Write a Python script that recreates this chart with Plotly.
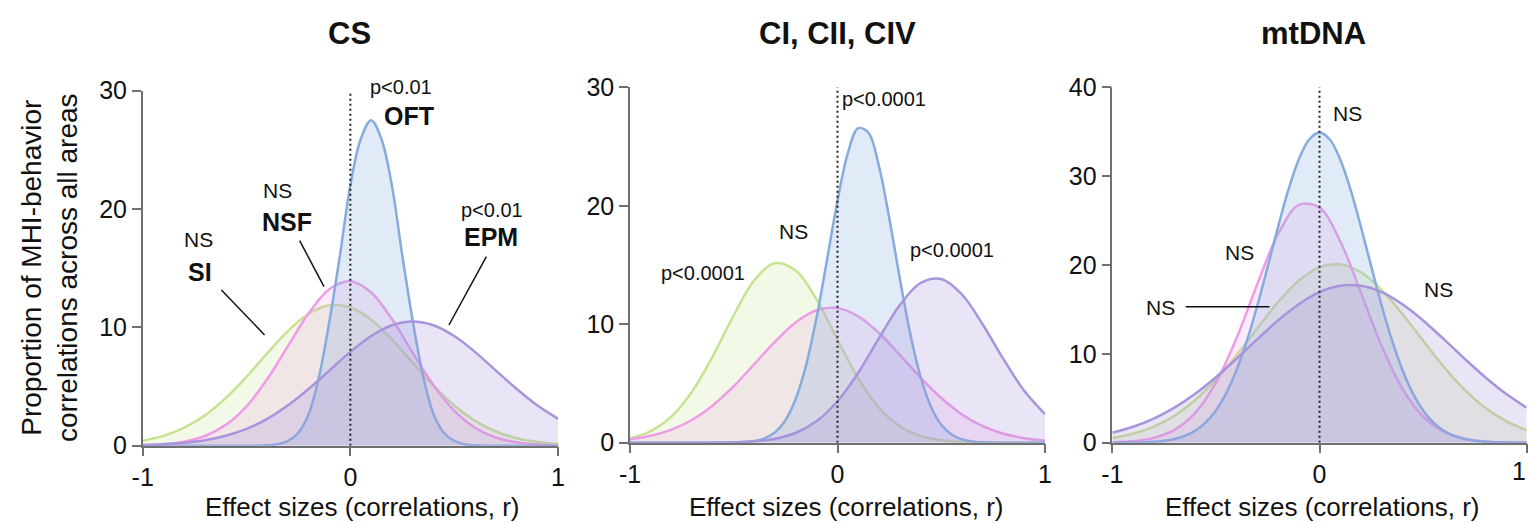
import plotly.graph_objects as go

# ---------------- data ----------------
R_VALUES = [-1.0, -0.9, -0.8, -0.7, -0.6, -0.5, -0.4, -0.3, -0.2, -0.1, 0.0,
            0.1, 0.2, 0.3, 0.4, 0.5, 0.6, 0.7, 0.8, 0.9, 1.0]
# finer grid for the narrow (blue) curves
R_FINE = [-1.0, -0.95, -0.9, -0.85, -0.8, -0.75, -0.7, -0.65, -0.6, -0.55, -0.5,
          -0.45, -0.4, -0.35, -0.3, -0.25, -0.2, -0.15, -0.1, -0.05, 0.0,
          0.05, 0.1, 0.15, 0.2, 0.25, 0.3, 0.35, 0.4, 0.45, 0.5,
          0.55, 0.6, 0.65, 0.7, 0.75, 0.8, 0.85, 0.9, 0.95, 1.0]

PANEL_TITLES = ["CS", "CI, CII, CIV", "mtDNA"]

# CS panel
CS_SI = [0.42, 0.83, 1.52, 2.57, 4.02, 5.83, 7.82, 9.70, 11.15, 11.86, 11.68,
         10.65, 8.98, 7.02, 5.07, 3.40, 2.11, 1.20, 0.64, 0.32, 0.14]
CS_NSF = [0.04, 0.13, 0.34, 0.82, 1.76, 3.33, 5.63, 8.43, 11.21, 13.24, 13.89,
          12.94, 10.70, 7.85, 5.12, 2.96, 1.52, 0.69, 0.28, 0.10, 0.03]
CS_OFT = [0, 0, 0, 0, 0, 0, 0, 0, 0, 0, 0,
          0, 0.03, 0.12, 0.4, 1.1, 2.7, 5.9, 10.6, 16.1, 22.0,
          25.9, 27.5, 25.9, 22.0, 16.1, 10.6, 5.9, 2.7, 1.1, 0.4,
          0.12, 0.03, 0, 0, 0, 0, 0, 0, 0, 0]
CS_EPM = [0.05, 0.12, 0.24, 0.46, 0.84, 1.42, 2.27, 3.41, 4.81, 6.37, 7.93,
          9.27, 10.18, 10.5, 10.18, 9.27, 7.93, 6.37, 4.81, 3.41, 2.27]

# CI, CII, CIV panel
C_GREEN = [0.38, 0.98, 2.22, 4.33, 7.33, 10.76, 13.73, 15.16, 14.52, 12.07, 8.69,
           5.44, 2.95, 1.39, 0.57, 0.20, 0.06, 0.02, 0, 0, 0]
C_PINK = [0.28, 0.58, 1.10, 1.94, 3.17, 4.77, 6.65, 8.55, 10.17, 11.18, 11.36,
          10.67, 9.26, 7.42, 5.49, 3.77, 2.38, 1.39, 0.75, 0.38, 0.17]
C_BLUE = [0, 0, 0, 0, 0, 0, 0, 0, 0, 0, 0.02,
          0.05, 0.14, 0.38, 0.89, 1.92, 3.75, 6.63, 10.65, 15.48, 20.43,
          24.45, 26.55, 26.14, 23.34, 18.91, 13.9, 9.25, 5.59, 3.06, 1.52,
          0.69, 0.28, 0.10, 0.03, 0, 0, 0, 0, 0, 0]
C_PURPLE = [0, 0, 0, 0, 0.01, 0.04, 0.12, 0.34, 0.84, 1.83, 3.50,
            5.91, 8.82, 11.6, 13.48, 13.82, 12.51, 9.98, 7.05, 4.38, 2.41]

# mtDNA panel
M_GREEN = [0.53, 1.02, 1.82, 3.04, 4.79, 7.10, 9.87, 12.88, 15.82, 18.23, 19.73,
           20.07, 19.18, 17.21, 14.49, 11.48, 8.54, 5.97, 3.92, 2.42, 1.40]
M_PINK = [0.05, 0.17, 0.54, 1.44, 3.35, 6.75, 11.78, 17.86, 23.47, 26.76, 26.46,
          22.68, 16.86, 10.87, 6.09, 2.95, 1.24, 0.45, 0.14, 0.04, 0.01]
M_BLUE = [0.0, 0.01, 0.02, 0.05, 0.11, 0.21, 0.41, 0.76, 1.34, 2.26, 3.63,
          5.58, 8.21, 11.51, 15.44, 19.82, 24.29, 28.47, 31.88, 34.12, 34.9,
          34.12, 31.88, 28.47, 24.29, 19.82, 15.44, 11.51, 8.21, 5.58, 3.63,
          2.26, 1.34, 0.76, 0.41, 0.21, 0.11, 0.05, 0.02, 0.01, 0.0]
M_PURPLE = [1.13, 1.79, 2.71, 3.94, 5.50, 7.37, 9.46, 11.65, 13.76, 15.58, 16.94,
            17.66, 17.66, 16.94, 15.58, 13.76, 11.65, 9.46, 7.37, 5.50, 3.94]

Y_MAX = [30, 30, 40]
Y_TICKS = [[0, 10, 20, 30], [0, 10, 20, 30], [0, 10, 20, 30, 40]]
X_TICKS = [-1, 0, 1]
X_TICKTEXT = ["-1", "0", "1"]

# ---------------- styling ----------------
FONT = "Arial, Liberation Sans, Helvetica, sans-serif"
COL = {
    "green": ("rgb(198,227,145)", "rgba(198,227,145,0.22)"),
    "pink": ("rgb(240,155,232)", "rgba(240,155,232,0.20)"),
    "blue": ("rgb(134,172,222)", "rgba(134,172,222,0.25)"),
    "purple": ("rgb(168,148,220)", "rgba(168,148,220,0.25)"),
}
AXIS_COLOR = "#707070"
TICK_SIZE = 25

panels = [
    [("green", R_VALUES, CS_SI), ("pink", R_VALUES, CS_NSF),
     ("blue", R_FINE, CS_OFT), ("purple", R_VALUES, CS_EPM)],
    [("green", R_VALUES, C_GREEN), ("pink", R_VALUES, C_PINK),
     ("blue", R_FINE, C_BLUE), ("purple", R_VALUES, C_PURPLE)],
    [("green", R_VALUES, M_GREEN), ("pink", R_VALUES, M_PINK),
     ("blue", R_FINE, M_BLUE), ("purple", R_VALUES, M_PURPLE)],
]

W, H = 1529, 523
x_dom = [[142.7 / W, 558.0 / W], [630.0 / W, 1045.0 / W], [1112.3 / W, 1526.7 / W]]
y_dom = [[1 - 445.7 / H, 1 - 90.7 / H], [1 - 442.7 / H, 1 - 87.3 / H], [1 - 442.7 / H, 1 - 87.3 / H]]

fig = go.Figure()

for i, series in enumerate(panels):
    xa = "x" if i == 0 else f"x{i+1}"
    ya = "y" if i == 0 else f"y{i+1}"
    for name, xs, vals in series:
        lc, fc = COL[name]
        fig.add_trace(go.Scatter(
            x=xs, y=vals, xaxis=xa, yaxis=ya, mode="lines",
            line=dict(color=lc, width=2.5, shape="spline", smoothing=1.0),
            fill="tozeroy", fillcolor=fc, showlegend=False, hoverinfo="skip"))
    # dotted zero line
    fig.add_shape(type="line", xref=xa, yref=ya, x0=0, x1=0, y0=0, y1=Y_MAX[i],
                  line=dict(color="#222222", width=2, dash="2px,3px"))

axis_common = dict(showline=True, linecolor=AXIS_COLOR, linewidth=1.5,
                   ticks="outside", ticklen=9, tickwidth=1.5, tickcolor=AXIS_COLOR,
                   showgrid=False, zeroline=False, automargin=False,
                   tickfont=dict(family=FONT, size=TICK_SIZE, color="#111111"))

layout = dict(width=W, height=H, margin=dict(l=0, r=0, t=0, b=0, autoexpand=False),
              paper_bgcolor="white", plot_bgcolor="rgba(0,0,0,0)", template="none",
              font=dict(family=FONT, color="#111111"), showlegend=False)
for i in range(3):
    xk = "xaxis" if i == 0 else f"xaxis{i+1}"
    yk = "yaxis" if i == 0 else f"yaxis{i+1}"
    ya = "y" if i == 0 else f"y{i+1}"
    xa = "x" if i == 0 else f"x{i+1}"
    layout[xk] = dict(domain=x_dom[i], range=[-1, 1], anchor=ya,
                      tickvals=X_TICKS, ticktext=X_TICKTEXT, **axis_common)
    layout[yk] = dict(domain=y_dom[i], range=[0, Y_MAX[i]], anchor=xa,
                      tickvals=Y_TICKS[i], **axis_common)
fig.update_layout(**layout)

ann = []
# panel titles
for t, cx in zip(PANEL_TITLES, [349, 837, 1313]):
    ann.append(dict(text=f"<b>{t}</b>", x=cx / W, y=1 - 33 / H, xref="paper", yref="paper",
                    showarrow=False, xanchor="center", yanchor="middle",
                    font=dict(size=31, family=FONT, color="#111111")))
# x axis titles
for cx in [362, 846, 1322]:
    ann.append(dict(text="Effect sizes (correlations, r)", x=cx / W, y=1 - 507 / H,
                    xref="paper", yref="paper", showarrow=False, xanchor="center",
                    yanchor="middle", font=dict(size=26, family=FONT, color="#111111")))
# right-most "1" tick label of the mtDNA panel (plotly drops it at the page edge)
ann.append(dict(text="1", x=1528 / W, y=1 - 471 / H, xref="paper", yref="paper",
                showarrow=False, xanchor="right", yanchor="middle",
                font=dict(size=TICK_SIZE, family=FONT, color="#111111")))
# y axis title
ann.append(dict(text="Proportion of MHI-behavior<br>correlations across all areas",
                x=49 / W, y=1 - 268 / H, xref="paper", yref="paper", showarrow=False,
                textangle=-90, xanchor="center", yanchor="middle",
                font=dict(size=28, family=FONT, color="#111111")))


def lab(text, x, y, axis, size=20, bold=False):
    # place in paper coordinates computed from the panel's data ranges
    d0, d1 = x_dom[axis - 1]
    e0, e1 = y_dom[axis - 1]
    px = d0 + (x + 1) / 2 * (d1 - d0)
    py = e0 + y / Y_MAX[axis - 1] * (e1 - e0)
    t = f"<b>{text}</b>" if bold else text
    ann.append(dict(text=t, x=px, y=py, xref="paper", yref="paper", showarrow=False,
                    xanchor="center", yanchor="middle",
                    font=dict(size=size, family=FONT, color="#111111")))


# CS labels
lab("p&lt;0.01", 0.242, 30.3, 1)
lab("OFT", 0.281, 27.9, 1, 25, True)
lab("NS", -0.352, 21.6, 1, 21)
lab("NSF", -0.307, 18.9, 1, 25, True)
lab("NS", -0.730, 17.4, 1, 21)
lab("SI", -0.726, 14.7, 1, 25, True)
lab("p&lt;0.01", 0.680, 19.9, 1)
lab("EPM", 0.675, 17.6, 1, 25, True)
# CI panel labels
lab("p&lt;0.0001", 0.223, 29.0, 2)
lab("NS", -0.213, 17.85, 2, 21)
lab("p&lt;0.0001", -0.647, 14.3, 2)
lab("p&lt;0.0001", 0.554, 16.3, 2)
# mtDNA labels
lab("NS", 0.137, 37.1, 3, 21)
lab("NS", -0.386, 21.4, 3, 21)
lab("NS", -0.767, 15.2, 3, 21)
lab("NS", 0.572, 17.2, 3, 21)
fig.update_layout(annotations=ann)

# leader lines
for (x0, y0, x1, y1, a) in [(-0.621, 13.16, -0.413, 9.36, 1),
                            (-0.244, 17.33, -0.127, 13.44, 1),
                            (0.655, 15.98, 0.475, 10.2, 1),
                            (-0.646, 15.3, -0.241, 15.3, 3)]:
    xr = "x" if a == 1 else f"x{a}"
    yr = "y" if a == 1 else f"y{a}"
    fig.add_shape(type="line", xref=xr, yref=yr, x0=x0, y0=y0, x1=x1, y1=y1,
                  line=dict(color="#111111", width=1.5))

fig.write_html("out.html", config={"displayModeBar": False},
               post_script="document.body.style.margin='0px';document.body.style.overflow='hidden';")
